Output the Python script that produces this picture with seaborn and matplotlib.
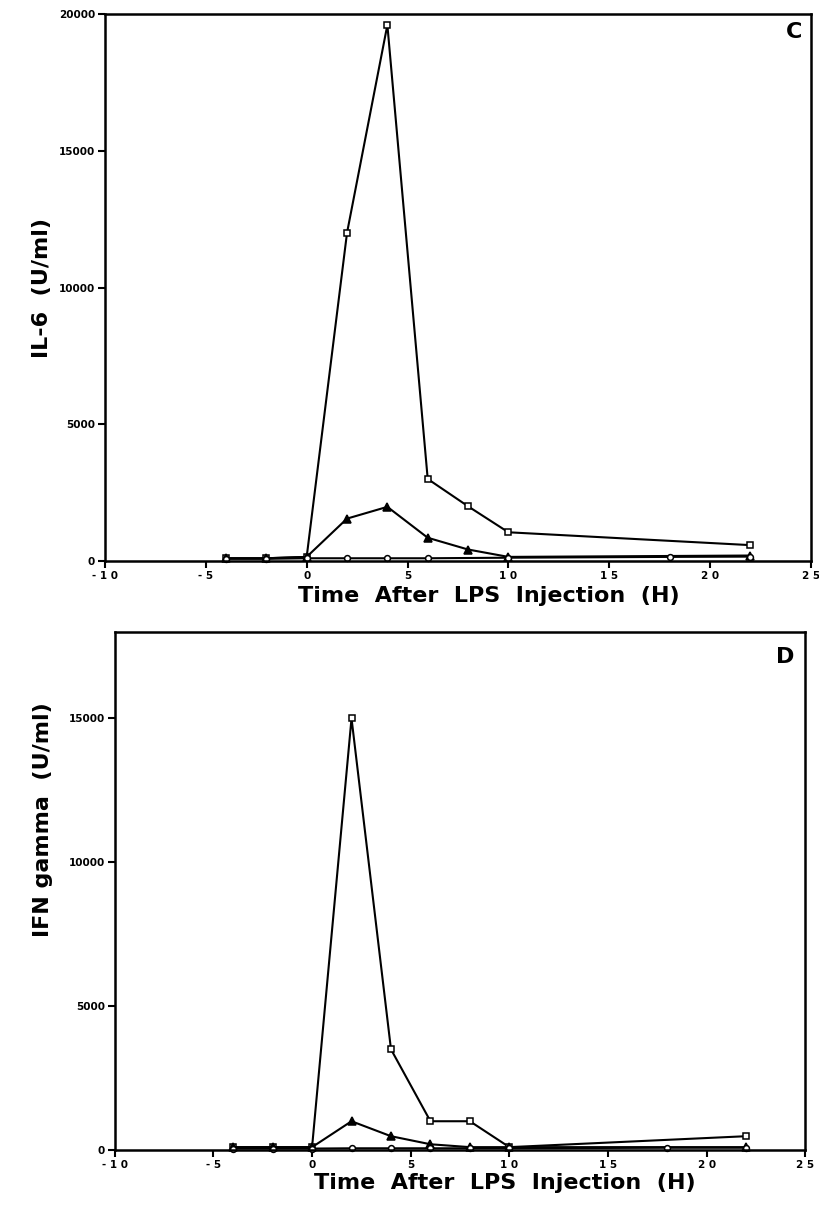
import numpy as np
import pandas as pd
import seaborn as sns
import matplotlib.pyplot as plt

# Panel C: IL-6 (U/ml)
c_sq_x = [-4, -2, 0, 2, 4, 6, 8, 10, 22]
c_sq_y = [100, 100, 150, 12000, 19600, 3000, 2000, 1050, 580]
c_tri_x = [-4, -2, 0, 2, 4, 6, 8, 10, 22]
c_tri_y = [100, 100, 150, 1550, 1980, 850, 420, 150, 200]
c_circ_x = [-4, -2, 0, 2, 4, 6, 10, 18, 22]
c_circ_y = [80, 80, 100, 100, 100, 100, 120, 150, 160]

# Panel D: IFN gamma (U/ml)
d_sq_x = [-4, -2, 0, 2, 4, 6, 8, 10, 22]
d_sq_y = [100, 100, 100, 15000, 3500, 1000, 1000, 100, 480]
d_tri_x = [-4, -2, 0, 2, 4, 6, 8, 10, 22]
d_tri_y = [100, 100, 100, 1000, 480, 200, 100, 100, 100]
d_circ_x = [-4, -2, 0, 2, 4, 6, 8, 10, 18, 22]
d_circ_y = [50, 50, 50, 60, 60, 60, 60, 60, 80, 80]

x_ticks = [-10, -5, 0, 5, 10, 15, 20, 25]

sns.set_theme(style="ticks")
plt.rcParams['font.family'] = ['DejaVu Sans']
plt.rcParams['font.weight'] = 'bold'
for k in ['text.color', 'axes.labelcolor', 'xtick.color', 'ytick.color', 'axes.edgecolor']:
    plt.rcParams[k] = 'black'

fig = plt.figure(figsize=(8.2, 12.08), dpi=100)
ax_c = fig.add_axes([0.128, 0.5356, 0.861, 0.4528])
ax_d = fig.add_axes([0.140, 0.0480, 0.842, 0.4288])


def draw_panel(ax, series, ylim, yticks, ylabel, letter, lab_x, ylab_xy, let_xy):
    for xs, ys, mk, fc, ms in series:
        df = pd.DataFrame({"x": xs, "y": ys})
        sns.lineplot(data=df, x="x", y="y", ax=ax, color="black", lw=1.5,
                     marker=mk, markerfacecolor=fc, markeredgecolor="black",
                     markersize=ms, markeredgewidth=1.1, clip_on=False)
    ax.set_xlim(-10, 25)
    ax.set_ylim(0, ylim)
    ax.set_xticks(x_ticks)
    # tick labels in the original are letter-spaced
    ax.set_xticklabels([" ".join(str(t)) for t in x_ticks], fontsize=7.5, fontweight="bold")
    ax.set_yticks(yticks)
    ax.set_yticklabels([str(t) for t in yticks], fontsize=7.5, fontweight="bold")
    ax.tick_params(direction="out", length=5, width=1.5, pad=2)
    for s in ax.spines.values():
        s.set_linewidth(1.8)
    ax.set_xlabel("Time  After  LPS  Injection  (H)", fontsize=16, fontweight="bold")
    ax.xaxis.set_label_coords(lab_x, -0.045)
    ax.set_ylabel(ylabel, fontsize=16, fontweight="bold")
    ax.yaxis.set_label_coords(*ylab_xy)
    ax.text(let_xy[0], let_xy[1], letter, transform=ax.transAxes, fontsize=16,
            fontweight="bold", ha="right", va="top")


draw_panel(ax_c,
           [(c_sq_x, c_sq_y, "s", "white", 5),
            (c_tri_x, c_tri_y, "^", "black", 5.5),
            (c_circ_x, c_circ_y, "o", "white", 4.2)],
           20000, [0, 5000, 10000, 15000, 20000], "IL-6  (U/ml)", "C",
           0.544, (-0.075, 0.5), (0.987, 0.985))

draw_panel(ax_d,
           [(d_sq_x, d_sq_y, "s", "white", 5),
            (d_tri_x, d_tri_y, "^", "black", 5.5),
            (d_circ_x, d_circ_y, "o", "white", 4.2)],
           18000, [0, 5000, 10000, 15000], "IFN gamma  (U/ml)", "D",
           0.565, (-0.089, 0.637), (0.984, 0.972))

fig.savefig("out.png", dpi=100)
